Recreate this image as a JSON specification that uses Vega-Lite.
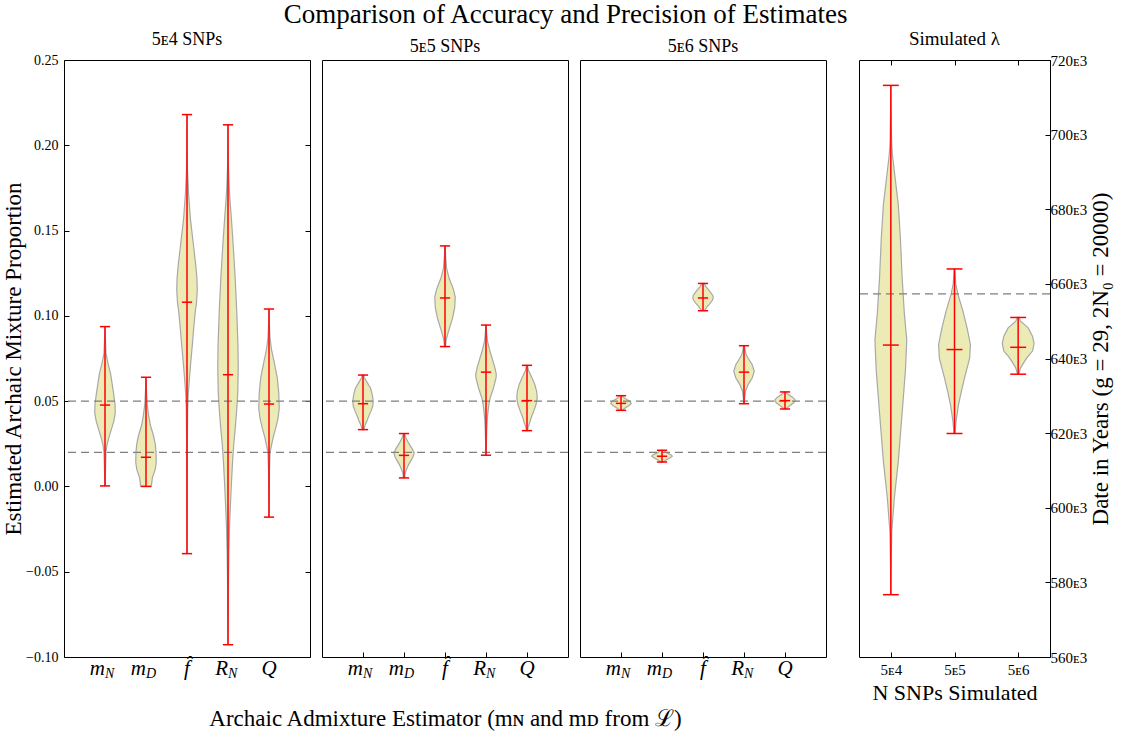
{
  "$schema": "https://vega.github.io/schema/vega-lite/v6.json",
  "background": "white",
  "padding": {"left": 2, "top": 0, "right": 2, "bottom": 2},
  "bounds": "flush",
  "spacing": 12,
  "config": {
    "font": "Liberation Serif",
    "view": {"stroke": "black", "strokeWidth": 1},
    "axis": {"grid": false, "domain": false, "tickColor": "black", "tickSize": -5, "tickWidth": 1, "labelColor": "black", "titleColor": "black", "labelFont": "Liberation Serif", "titleFont": "Liberation Serif", "titleFontWeight": "normal", "labelFontSize": 14, "titleFontSize": 22, "labelPadding": 11},
    "title": {"font": "Liberation Serif", "fontWeight": "normal", "color": "black"}
  },
  "title": {"text": "Comparison of Accuracy and Precision of Estimates", "fontSize": 27, "anchor": "middle", "offset": 1, "dx": 8},
  "datasets": {
    "vio": [
      {"p":1,"k":1,"v":0.0937,"w":0},{"p":1,"k":1,"v":0.085,"w":0.05},{"p":1,"k":1,"v":0.078,"w":0.1},{"p":1,"k":1,"v":0.072,"w":0.3},{"p":1,"k":1,"v":0.066,"w":0.55},{"p":1,"k":1,"v":0.06,"w":0.7},{"p":1,"k":1,"v":0.054,"w":0.85},{"p":1,"k":1,"v":0.048,"w":0.98},{"p":1,"k":1,"v":0.043,"w":1.0},{"p":1,"k":1,"v":0.038,"w":0.85},{"p":1,"k":1,"v":0.033,"w":0.6},{"p":1,"k":1,"v":0.028,"w":0.35},{"p":1,"k":1,"v":0.024,"w":0.18},{"p":1,"k":1,"v":0.02,"w":0.1},{"p":1,"k":1,"v":0.012,"w":0.06},{"p":1,"k":1,"v":0.005,"w":0.03},{"p":1,"k":1,"v":0.0003,"w":0.02},
      {"p":1,"k":2,"v":0.064,"w":0},{"p":1,"k":2,"v":0.056,"w":0.05},{"p":1,"k":2,"v":0.048,"w":0.12},{"p":1,"k":2,"v":0.042,"w":0.25},{"p":1,"k":2,"v":0.036,"w":0.42},{"p":1,"k":2,"v":0.03,"w":0.72},{"p":1,"k":2,"v":0.025,"w":0.9},{"p":1,"k":2,"v":0.02,"w":0.98},{"p":1,"k":2,"v":0.014,"w":1.0},{"p":1,"k":2,"v":0.01,"w":0.9},{"p":1,"k":2,"v":0.005,"w":0.62},{"p":1,"k":2,"v":0.0,"w":0.52},
      {"p":1,"k":3,"v":0.218,"w":0},{"p":1,"k":3,"v":0.2,"w":0.02},{"p":1,"k":3,"v":0.185,"w":0.05},{"p":1,"k":3,"v":0.171,"w":0.16},{"p":1,"k":3,"v":0.157,"w":0.33},{"p":1,"k":3,"v":0.142,"w":0.62},{"p":1,"k":3,"v":0.13,"w":0.85},{"p":1,"k":3,"v":0.122,"w":0.97},{"p":1,"k":3,"v":0.115,"w":1.0},{"p":1,"k":3,"v":0.108,"w":0.93},{"p":1,"k":3,"v":0.1027,"w":0.81},{"p":1,"k":3,"v":0.093,"w":0.66},{"p":1,"k":3,"v":0.083,"w":0.52},{"p":1,"k":3,"v":0.073,"w":0.37},{"p":1,"k":3,"v":0.0636,"w":0.24},{"p":1,"k":3,"v":0.054,"w":0.12},{"p":1,"k":3,"v":0.045,"w":0.07},{"p":1,"k":3,"v":0.03,"w":0.04},{"p":1,"k":3,"v":0.0,"w":0.02},{"p":1,"k":3,"v":-0.0394,"w":0},
      {"p":1,"k":4,"v":0.212,"w":0},{"p":1,"k":4,"v":0.19,"w":0.03},{"p":1,"k":4,"v":0.175,"w":0.12},{"p":1,"k":4,"v":0.169,"w":0.18},{"p":1,"k":4,"v":0.157,"w":0.33},{"p":1,"k":4,"v":0.142,"w":0.5},{"p":1,"k":4,"v":0.122,"w":0.7},{"p":1,"k":4,"v":0.103,"w":0.85},{"p":1,"k":4,"v":0.083,"w":0.97},{"p":1,"k":4,"v":0.07,"w":1.0},{"p":1,"k":4,"v":0.055,"w":0.95},{"p":1,"k":4,"v":0.045,"w":0.85},{"p":1,"k":4,"v":0.035,"w":0.72},{"p":1,"k":4,"v":0.024,"w":0.55},{"p":1,"k":4,"v":0.015,"w":0.45},{"p":1,"k":4,"v":0.005,"w":0.36},{"p":1,"k":4,"v":-0.005,"w":0.28},{"p":1,"k":4,"v":-0.0145,"w":0.21},{"p":1,"k":4,"v":-0.025,"w":0.14},{"p":1,"k":4,"v":-0.04,"w":0.08},{"p":1,"k":4,"v":-0.06,"w":0.04},{"p":1,"k":4,"v":-0.08,"w":0.02},{"p":1,"k":4,"v":-0.0928,"w":0},
      {"p":1,"k":5,"v":0.104,"w":0},{"p":1,"k":5,"v":0.095,"w":0.04},{"p":1,"k":5,"v":0.087,"w":0.1},{"p":1,"k":5,"v":0.08,"w":0.25},{"p":1,"k":5,"v":0.073,"w":0.5},{"p":1,"k":5,"v":0.064,"w":0.8},{"p":1,"k":5,"v":0.055,"w":0.95},{"p":1,"k":5,"v":0.046,"w":1.0},{"p":1,"k":5,"v":0.04,"w":0.88},{"p":1,"k":5,"v":0.034,"w":0.65},{"p":1,"k":5,"v":0.029,"w":0.42},{"p":1,"k":5,"v":0.024,"w":0.24},{"p":1,"k":5,"v":0.02,"w":0.1},{"p":1,"k":5,"v":0.01,"w":0.05},{"p":1,"k":5,"v":0.0,"w":0.03},{"p":1,"k":5,"v":-0.018,"w":0},
      {"p":2,"k":1,"v":0.0653,"w":0.05},{"p":2,"k":1,"v":0.0636,"w":0.15},{"p":2,"k":1,"v":0.061,"w":0.4},{"p":2,"k":1,"v":0.0577,"w":0.73},{"p":2,"k":1,"v":0.054,"w":0.9},{"p":2,"k":1,"v":0.05,"w":1.0},{"p":2,"k":1,"v":0.047,"w":0.95},{"p":2,"k":1,"v":0.044,"w":0.76},{"p":2,"k":1,"v":0.041,"w":0.55},{"p":2,"k":1,"v":0.038,"w":0.36},{"p":2,"k":1,"v":0.0355,"w":0.18},{"p":2,"k":1,"v":0.0333,"w":0.08},
      {"p":2,"k":2,"v":0.031,"w":0.05},{"p":2,"k":2,"v":0.0284,"w":0.2},{"p":2,"k":2,"v":0.0265,"w":0.35},{"p":2,"k":2,"v":0.0245,"w":0.54},{"p":2,"k":2,"v":0.022,"w":0.8},{"p":2,"k":2,"v":0.0196,"w":1.0},{"p":2,"k":2,"v":0.017,"w":0.85},{"p":2,"k":2,"v":0.0147,"w":0.63},{"p":2,"k":2,"v":0.0128,"w":0.45},{"p":2,"k":2,"v":0.0108,"w":0.3},{"p":2,"k":2,"v":0.008,"w":0.12},{"p":2,"k":2,"v":0.005,"w":0.05},
      {"p":2,"k":3,"v":0.141,"w":0.02},{"p":2,"k":3,"v":0.135,"w":0.06},{"p":2,"k":3,"v":0.128,"w":0.15},{"p":2,"k":3,"v":0.122,"w":0.4},{"p":2,"k":3,"v":0.116,"w":0.8},{"p":2,"k":3,"v":0.111,"w":1.0},{"p":2,"k":3,"v":0.105,"w":0.95},{"p":2,"k":3,"v":0.099,"w":0.75},{"p":2,"k":3,"v":0.094,"w":0.5},{"p":2,"k":3,"v":0.09,"w":0.3},{"p":2,"k":3,"v":0.086,"w":0.12},{"p":2,"k":3,"v":0.082,"w":0.04},
      {"p":2,"k":4,"v":0.0946,"w":0.02},{"p":2,"k":4,"v":0.09,"w":0.06},{"p":2,"k":4,"v":0.085,"w":0.15},{"p":2,"k":4,"v":0.08,"w":0.35},{"p":2,"k":4,"v":0.075,"w":0.6},{"p":2,"k":4,"v":0.07,"w":0.85},{"p":2,"k":4,"v":0.066,"w":1.0},{"p":2,"k":4,"v":0.0636,"w":0.98},{"p":2,"k":4,"v":0.0577,"w":0.73},{"p":2,"k":4,"v":0.0518,"w":0.4},{"p":2,"k":4,"v":0.048,"w":0.28},{"p":2,"k":4,"v":0.044,"w":0.2},{"p":2,"k":4,"v":0.039,"w":0.12},{"p":2,"k":4,"v":0.034,"w":0.08},{"p":2,"k":4,"v":0.026,"w":0.04},{"p":2,"k":4,"v":0.0183,"w":0.02},
      {"p":2,"k":5,"v":0.071,"w":0.04},{"p":2,"k":5,"v":0.068,"w":0.15},{"p":2,"k":5,"v":0.0636,"w":0.49},{"p":2,"k":5,"v":0.06,"w":0.75},{"p":2,"k":5,"v":0.0558,"w":0.94},{"p":2,"k":5,"v":0.052,"w":1.0},{"p":2,"k":5,"v":0.048,"w":0.88},{"p":2,"k":5,"v":0.044,"w":0.65},{"p":2,"k":5,"v":0.041,"w":0.45},{"p":2,"k":5,"v":0.038,"w":0.3},{"p":2,"k":5,"v":0.035,"w":0.12},{"p":2,"k":5,"v":0.0327,"w":0.05},
      {"p":3,"k":1,"v":0.0532,"w":0.1},{"p":3,"k":1,"v":0.0515,"w":0.4},{"p":3,"k":1,"v":0.05,"w":0.85},{"p":3,"k":1,"v":0.0487,"w":1.0},{"p":3,"k":1,"v":0.0475,"w":0.8},{"p":3,"k":1,"v":0.046,"w":0.4},{"p":3,"k":1,"v":0.0446,"w":0.1},
      {"p":3,"k":2,"v":0.0212,"w":0.1},{"p":3,"k":2,"v":0.0198,"w":0.45},{"p":3,"k":2,"v":0.0185,"w":0.9},{"p":3,"k":2,"v":0.0177,"w":1.0},{"p":3,"k":2,"v":0.0168,"w":0.8},{"p":3,"k":2,"v":0.0155,"w":0.4},{"p":3,"k":2,"v":0.0143,"w":0.1},
      {"p":3,"k":3,"v":0.119,"w":0.1},{"p":3,"k":3,"v":0.117,"w":0.3},{"p":3,"k":3,"v":0.1145,"w":0.65},{"p":3,"k":3,"v":0.112,"w":0.95},{"p":3,"k":3,"v":0.1105,"w":1.0},{"p":3,"k":3,"v":0.109,"w":0.9},{"p":3,"k":3,"v":0.107,"w":0.65},{"p":3,"k":3,"v":0.105,"w":0.35},{"p":3,"k":3,"v":0.103,"w":0.15},
      {"p":3,"k":4,"v":0.0825,"w":0.04},{"p":3,"k":4,"v":0.08,"w":0.1},{"p":3,"k":4,"v":0.0775,"w":0.2},{"p":3,"k":4,"v":0.0753,"w":0.4},{"p":3,"k":4,"v":0.0714,"w":0.8},{"p":3,"k":4,"v":0.0675,"w":1.0},{"p":3,"k":4,"v":0.0636,"w":0.8},{"p":3,"k":4,"v":0.0597,"w":0.4},{"p":3,"k":4,"v":0.0558,"w":0.15},{"p":3,"k":4,"v":0.052,"w":0.06},{"p":3,"k":4,"v":0.0485,"w":0.03},
      {"p":3,"k":5,"v":0.0554,"w":0.08},{"p":3,"k":5,"v":0.054,"w":0.3},{"p":3,"k":5,"v":0.0525,"w":0.7},{"p":3,"k":5,"v":0.051,"w":0.95},{"p":3,"k":5,"v":0.0503,"w":1.0},{"p":3,"k":5,"v":0.049,"w":0.85},{"p":3,"k":5,"v":0.0475,"w":0.5},{"p":3,"k":5,"v":0.046,"w":0.2},{"p":3,"k":5,"v":0.0454,"w":0.08},
      {"p":4,"k":0,"v":713200,"w":0},{"p":4,"k":0,"v":705000,"w":0.02},{"p":4,"k":0,"v":698000,"w":0.05},{"p":4,"k":0,"v":694600,"w":0.1},{"p":4,"k":0,"v":688000,"w":0.28},{"p":4,"k":0,"v":681200,"w":0.47},{"p":4,"k":0,"v":672300,"w":0.6},{"p":4,"k":0,"v":661600,"w":0.71},{"p":4,"k":0,"v":652000,"w":0.85},{"p":4,"k":0,"v":645000,"w":1.0},{"p":4,"k":0,"v":637000,"w":0.92},{"p":4,"k":0,"v":626000,"w":0.72},{"p":4,"k":0,"v":612500,"w":0.47},{"p":4,"k":0,"v":602600,"w":0.22},{"p":4,"k":0,"v":593800,"w":0.06},{"p":4,"k":0,"v":585000,"w":0.02},{"p":4,"k":0,"v":576700,"w":0},
      {"p":4,"k":1,"v":664000,"w":0.02},{"p":4,"k":1,"v":660000,"w":0.08},{"p":4,"k":1,"v":657100,"w":0.22},{"p":4,"k":1,"v":652700,"w":0.53},{"p":4,"k":1,"v":648000,"w":0.8},{"p":4,"k":1,"v":643700,"w":1.0},{"p":4,"k":1,"v":640000,"w":0.95},{"p":4,"k":1,"v":634800,"w":0.63},{"p":4,"k":1,"v":631000,"w":0.42},{"p":4,"k":1,"v":627600,"w":0.25},{"p":4,"k":1,"v":623200,"w":0.1},{"p":4,"k":1,"v":619900,"w":0.03},
      {"p":4,"k":2,"v":651000,"w":0.05},{"p":4,"k":2,"v":650000,"w":0.15},{"p":4,"k":2,"v":648200,"w":0.63},{"p":4,"k":2,"v":646000,"w":0.9},{"p":4,"k":2,"v":644000,"w":1.0},{"p":4,"k":2,"v":642000,"w":0.9},{"p":4,"k":2,"v":640500,"w":0.6},{"p":4,"k":2,"v":639300,"w":0.41},{"p":4,"k":2,"v":637500,"w":0.15},{"p":4,"k":2,"v":635800,"w":0.04}
    ],
    "stats": [
      {"p":1,"k":1,"mn":0.0003,"mx":0.0937,"md":0.0477},
      {"p":1,"k":2,"mn":0.0,"mx":0.064,"md":0.0171},
      {"p":1,"k":3,"mn":-0.0394,"mx":0.218,"md":0.108},
      {"p":1,"k":4,"mn":-0.0928,"mx":0.212,"md":0.0655},
      {"p":1,"k":5,"mn":-0.018,"mx":0.104,"md":0.0483},
      {"p":2,"k":1,"mn":0.0333,"mx":0.0653,"md":0.0485},
      {"p":2,"k":2,"mn":0.005,"mx":0.031,"md":0.0182},
      {"p":2,"k":3,"mn":0.082,"mx":0.141,"md":0.1105},
      {"p":2,"k":4,"mn":0.0183,"mx":0.0946,"md":0.067},
      {"p":2,"k":5,"mn":0.0327,"mx":0.071,"md":0.0503},
      {"p":3,"k":1,"mn":0.0446,"mx":0.0532,"md":0.0487},
      {"p":3,"k":2,"mn":0.0143,"mx":0.0212,"md":0.0177},
      {"p":3,"k":3,"mn":0.103,"mx":0.119,"md":0.1105},
      {"p":3,"k":4,"mn":0.0485,"mx":0.0825,"md":0.067},
      {"p":3,"k":5,"mn":0.0454,"mx":0.0554,"md":0.0503},
      {"p":4,"k":0,"mn":576700,"mx":713200,"md":643600},
      {"p":4,"k":1,"mn":619900,"mx":664000,"md":642400},
      {"p":4,"k":2,"mn":635800,"mx":651000,"md":643000}
    ],
    "hl": [
      {"p":1,"h":0.05},{"p":1,"h":0.02},
      {"p":2,"h":0.05},{"p":2,"h":0.02},
      {"p":3,"h":0.05},{"p":3,"h":0.02},
      {"p":4,"h":657300}
    ],
    "lab": [
      {"k":1,"main":"m","sub":"N"},
      {"k":2,"main":"m","sub":"D"},
      {"k":3,"main":"f̂","sub":""},
      {"k":4,"main":"R","sub":"N"},
      {"k":5,"main":"Q","sub":""}
    ]
  },
  "hconcat": [
    {
      "width": 246, "height": 597,
      "title": {"text": "5ᴇ4 SNPs", "fontSize": 18, "offset": 4},
      "resolve": {"axis": {"y": "independent"}},
      "layer": [
        {
          "data": {"name": "vio"},
          "transform": [{"filter": "datum.p == 1"}, {"calculate": "datum.k - 0.25*datum.w", "as": "lo"}, {"calculate": "datum.k + 0.25*datum.w", "as": "hi"}],
          "mark": {"type": "area", "orient": "horizontal", "fill": "#ecebb6", "stroke": "#a8a8a8", "strokeWidth": 1.2},
          "encoding": {
            "y": {"field": "v", "type": "quantitative", "scale": {"domain": [-0.1, 0.25], "nice": false, "zero": false}, "axis": {"orient": "left", "values": [-0.1, -0.05, 0, 0.05, 0.1, 0.15, 0.2, 0.25], "format": ".2f", "title": "Estimated Archaic Mixture Proportion", "titleFontSize": 23, "titlePadding": 0}},
            "x": {"field": "lo", "type": "quantitative", "scale": {"domain": [0, 6], "nice": false, "zero": false}, "axis": {"orient": "bottom", "values": [1, 2, 3, 4, 5], "labels": false, "title": null}},
            "x2": {"field": "hi"},
            "detail": {"field": "k"}
          }
        },
        {
          "data": {"name": "hl"},
          "transform": [{"filter": "datum.p == 1"}],
          "mark": {"type": "rule", "strokeDash": [8, 5], "color": "#7f7f7f", "strokeWidth": 1.2},
          "encoding": {"y": {"field": "h", "type": "quantitative", "scale": {"domain": [-0.1, 0.25], "nice": false, "zero": false}, "axis": {"orient": "right", "values": [-0.1, -0.05, 0, 0.05, 0.1, 0.15, 0.2, 0.25], "labels": false, "title": null}}}
        },
        {
          "data": {"name": "stats"},
          "transform": [{"filter": "datum.p == 1"}],
          "mark": {"type": "rule", "color": "#ff0000", "strokeWidth": 1.5},
          "encoding": {"x": {"field": "k", "type": "quantitative", "axis": null}, "y": {"field": "mn", "type": "quantitative", "axis": null}, "y2": {"field": "mx"}}
        },
        {
          "data": {"name": "stats"},
          "transform": [{"filter": "datum.p == 1"}, {"fold": ["mn", "mx", "md"], "as": ["key", "val"]}, {"calculate": "datum.k - 0.125", "as": "a"}, {"calculate": "datum.k + 0.125", "as": "b"}],
          "mark": {"type": "rule", "color": "#ff0000", "strokeWidth": 1.5},
          "encoding": {"x": {"field": "a", "type": "quantitative", "axis": null}, "x2": {"field": "b"}, "y": {"field": "val", "type": "quantitative", "axis": null}}
        },
        {
          "data": {"name": "lab"},
          "transform": [{"filter": "datum.sub != ''"}],
          "mark": {"type": "text", "fontStyle": "italic", "fontSize": 21, "align": "right", "baseline": "alphabetic", "dy": 18, "color": "black"},
          "encoding": {"x": {"field": "k", "type": "quantitative", "axis": null}, "y": {"datum": -0.1, "type": "quantitative", "axis": null}, "text": {"field": "main"}}
        },
        {
          "data": {"name": "lab"},
          "transform": [{"filter": "datum.sub != ''"}],
          "mark": {"type": "text", "fontStyle": "italic", "fontSize": 14, "align": "left", "baseline": "alphabetic", "dy": 21, "color": "black"},
          "encoding": {"x": {"field": "k", "type": "quantitative", "axis": null}, "y": {"datum": -0.1, "type": "quantitative", "axis": null}, "text": {"field": "sub"}}
        },
        {
          "data": {"name": "lab"},
          "transform": [{"filter": "datum.sub == ''"}],
          "mark": {"type": "text", "fontStyle": "italic", "fontSize": 21, "align": "center", "baseline": "alphabetic", "dy": 18, "color": "black"},
          "encoding": {"x": {"field": "k", "type": "quantitative", "axis": null}, "y": {"datum": -0.1, "type": "quantitative", "axis": null}, "text": {"field": "main"}}
        }
      ]
    },
    {
      "width": 246, "height": 597,
      "title": {"text": "5ᴇ5 SNPs", "fontSize": 18, "offset": 4},
      "layer": [
        {
          "data": {"name": "vio"},
          "transform": [{"filter": "datum.p == 2"}, {"calculate": "datum.k - 0.25*datum.w", "as": "lo"}, {"calculate": "datum.k + 0.25*datum.w", "as": "hi"}],
          "mark": {"type": "area", "orient": "horizontal", "fill": "#ecebb6", "stroke": "#a8a8a8", "strokeWidth": 1.2},
          "encoding": {
            "y": {"field": "v", "type": "quantitative", "scale": {"domain": [-0.1, 0.25], "nice": false, "zero": false}, "axis": null},
            "x": {"field": "lo", "type": "quantitative", "scale": {"domain": [0, 6], "nice": false, "zero": false}, "axis": {"orient": "bottom", "values": [1, 2, 3, 4, 5], "labels": false, "title": "Archaic Admixture Estimator (mɴ and mᴅ from ℒ)", "titleFontSize": 23, "titlePadding": 50}},
            "x2": {"field": "hi"},
            "detail": {"field": "k"}
          }
        },
        {
          "data": {"name": "hl"},
          "transform": [{"filter": "datum.p == 2"}],
          "mark": {"type": "rule", "strokeDash": [8, 5], "color": "#7f7f7f", "strokeWidth": 1.2},
          "encoding": {"y": {"field": "h", "type": "quantitative", "axis": null}}
        },
        {
          "data": {"name": "stats"},
          "transform": [{"filter": "datum.p == 2"}],
          "mark": {"type": "rule", "color": "#ff0000", "strokeWidth": 1.5},
          "encoding": {"x": {"field": "k", "type": "quantitative"}, "y": {"field": "mn", "type": "quantitative"}, "y2": {"field": "mx"}}
        },
        {
          "data": {"name": "stats"},
          "transform": [{"filter": "datum.p == 2"}, {"fold": ["mn", "mx", "md"], "as": ["key", "val"]}, {"calculate": "datum.k - 0.125", "as": "a"}, {"calculate": "datum.k + 0.125", "as": "b"}],
          "mark": {"type": "rule", "color": "#ff0000", "strokeWidth": 1.5},
          "encoding": {"x": {"field": "a", "type": "quantitative"}, "x2": {"field": "b"}, "y": {"field": "val", "type": "quantitative"}}
        },
        {
          "data": {"name": "lab"},
          "transform": [{"filter": "datum.sub != ''"}],
          "mark": {"type": "text", "fontStyle": "italic", "fontSize": 21, "align": "right", "baseline": "alphabetic", "dy": 18, "color": "black"},
          "encoding": {"x": {"field": "k", "type": "quantitative"}, "y": {"datum": -0.1, "type": "quantitative"}, "text": {"field": "main"}}
        },
        {
          "data": {"name": "lab"},
          "transform": [{"filter": "datum.sub != ''"}],
          "mark": {"type": "text", "fontStyle": "italic", "fontSize": 14, "align": "left", "baseline": "alphabetic", "dy": 21, "color": "black"},
          "encoding": {"x": {"field": "k", "type": "quantitative"}, "y": {"datum": -0.1, "type": "quantitative"}, "text": {"field": "sub"}}
        },
        {
          "data": {"name": "lab"},
          "transform": [{"filter": "datum.sub == ''"}],
          "mark": {"type": "text", "fontStyle": "italic", "fontSize": 21, "align": "center", "baseline": "alphabetic", "dy": 18, "color": "black"},
          "encoding": {"x": {"field": "k", "type": "quantitative"}, "y": {"datum": -0.1, "type": "quantitative"}, "text": {"field": "main"}}
        }
      ]
    },
    {
      "width": 246, "height": 597,
      "title": {"text": "5ᴇ6 SNPs", "fontSize": 18, "offset": 4},
      "layer": [
        {
          "data": {"name": "vio"},
          "transform": [{"filter": "datum.p == 3"}, {"calculate": "datum.k - 0.25*datum.w", "as": "lo"}, {"calculate": "datum.k + 0.25*datum.w", "as": "hi"}],
          "mark": {"type": "area", "orient": "horizontal", "fill": "#ecebb6", "stroke": "#a8a8a8", "strokeWidth": 1.2},
          "encoding": {
            "y": {"field": "v", "type": "quantitative", "scale": {"domain": [-0.1, 0.25], "nice": false, "zero": false}, "axis": null},
            "x": {"field": "lo", "type": "quantitative", "scale": {"domain": [0, 6], "nice": false, "zero": false}, "axis": {"orient": "bottom", "values": [1, 2, 3, 4, 5], "labels": false, "title": null}},
            "x2": {"field": "hi"},
            "detail": {"field": "k"}
          }
        },
        {
          "data": {"name": "hl"},
          "transform": [{"filter": "datum.p == 3"}],
          "mark": {"type": "rule", "strokeDash": [8, 5], "color": "#7f7f7f", "strokeWidth": 1.2},
          "encoding": {"y": {"field": "h", "type": "quantitative", "axis": null}}
        },
        {
          "data": {"name": "stats"},
          "transform": [{"filter": "datum.p == 3"}],
          "mark": {"type": "rule", "color": "#ff0000", "strokeWidth": 1.5},
          "encoding": {"x": {"field": "k", "type": "quantitative"}, "y": {"field": "mn", "type": "quantitative"}, "y2": {"field": "mx"}}
        },
        {
          "data": {"name": "stats"},
          "transform": [{"filter": "datum.p == 3"}, {"fold": ["mn", "mx", "md"], "as": ["key", "val"]}, {"calculate": "datum.k - 0.125", "as": "a"}, {"calculate": "datum.k + 0.125", "as": "b"}],
          "mark": {"type": "rule", "color": "#ff0000", "strokeWidth": 1.5},
          "encoding": {"x": {"field": "a", "type": "quantitative"}, "x2": {"field": "b"}, "y": {"field": "val", "type": "quantitative"}}
        },
        {
          "data": {"name": "lab"},
          "transform": [{"filter": "datum.sub != ''"}],
          "mark": {"type": "text", "fontStyle": "italic", "fontSize": 21, "align": "right", "baseline": "alphabetic", "dy": 18, "color": "black"},
          "encoding": {"x": {"field": "k", "type": "quantitative"}, "y": {"datum": -0.1, "type": "quantitative"}, "text": {"field": "main"}}
        },
        {
          "data": {"name": "lab"},
          "transform": [{"filter": "datum.sub != ''"}],
          "mark": {"type": "text", "fontStyle": "italic", "fontSize": 14, "align": "left", "baseline": "alphabetic", "dy": 21, "color": "black"},
          "encoding": {"x": {"field": "k", "type": "quantitative"}, "y": {"datum": -0.1, "type": "quantitative"}, "text": {"field": "sub"}}
        },
        {
          "data": {"name": "lab"},
          "transform": [{"filter": "datum.sub == ''"}],
          "mark": {"type": "text", "fontStyle": "italic", "fontSize": 21, "align": "center", "baseline": "alphabetic", "dy": 18, "color": "black"},
          "encoding": {"x": {"field": "k", "type": "quantitative"}, "y": {"datum": -0.1, "type": "quantitative"}, "text": {"field": "main"}}
        }
      ]
    },
    {
      "width": 9, "height": 597,
      "view": {"stroke": null},
      "data": {"values": [{}]},
      "mark": {"type": "rule", "opacity": 0},
      "encoding": {}
    },
    {
      "width": 191, "height": 597,
      "title": {"text": "Simulated λ", "fontSize": 19, "offset": 4},
      "resolve": {"axis": {"x": "independent"}},
      "layer": [
        {
          "data": {"name": "vio"},
          "transform": [{"filter": "datum.p == 4"}, {"calculate": "datum.k - 0.25*datum.w", "as": "lo"}, {"calculate": "datum.k + 0.25*datum.w", "as": "hi"}],
          "mark": {"type": "area", "orient": "horizontal", "fill": "#ecebb6", "stroke": "#a8a8a8", "strokeWidth": 1.2},
          "encoding": {
            "y": {"field": "v", "type": "quantitative", "scale": {"domain": [560000, 720000], "nice": false, "zero": false}, "axis": {"orient": "right", "values": [560000, 580000, 600000, 620000, 640000, 660000, 680000, 700000, 720000], "labelExpr": "format(datum.value/1000, 'd') + 'ᴇ3'", "labelFontSize": 15, "labelPadding": 5, "title": "Date in Years (g = 29, 2N₀ = 20000)", "titleFontSize": 23, "titleAngle": 270, "titleBaseline": "top", "titlePadding": 3}},
            "x": {"field": "lo", "type": "quantitative", "scale": {"domain": [-0.5, 2.5], "nice": false, "zero": false}, "axis": {"orient": "bottom", "values": [0, 1, 2], "labelExpr": "['5ᴇ4', '5ᴇ5', '5ᴇ6'][datum.value]", "labelFontSize": 15, "labelPadding": 10, "title": "N SNPs Simulated", "titlePadding": 5}},
            "x2": {"field": "hi"},
            "detail": {"field": "k"}
          }
        },
        {
          "data": {"name": "hl"},
          "transform": [{"filter": "datum.p == 4"}],
          "mark": {"type": "rule", "strokeDash": [8, 5], "color": "#7f7f7f", "strokeWidth": 1.2},
          "encoding": {"y": {"field": "h", "type": "quantitative"}}
        },
        {
          "data": {"name": "stats"},
          "transform": [{"filter": "datum.p == 4"}],
          "mark": {"type": "rule", "color": "#ff0000", "strokeWidth": 1.5},
          "encoding": {"x": {"field": "k", "type": "quantitative", "axis": {"orient": "top", "values": [0, 1, 2], "labels": false, "title": null}}, "y": {"field": "mn", "type": "quantitative"}, "y2": {"field": "mx"}}
        },
        {
          "data": {"name": "stats"},
          "transform": [{"filter": "datum.p == 4"}, {"fold": ["mn", "mx", "md"], "as": ["key", "val"]}, {"calculate": "datum.k - 0.125", "as": "a"}, {"calculate": "datum.k + 0.125", "as": "b"}],
          "mark": {"type": "rule", "color": "#ff0000", "strokeWidth": 1.5},
          "encoding": {"x": {"field": "a", "type": "quantitative", "axis": null}, "x2": {"field": "b"}, "y": {"field": "val", "type": "quantitative"}}
        }
      ]
    }
  ]
}
